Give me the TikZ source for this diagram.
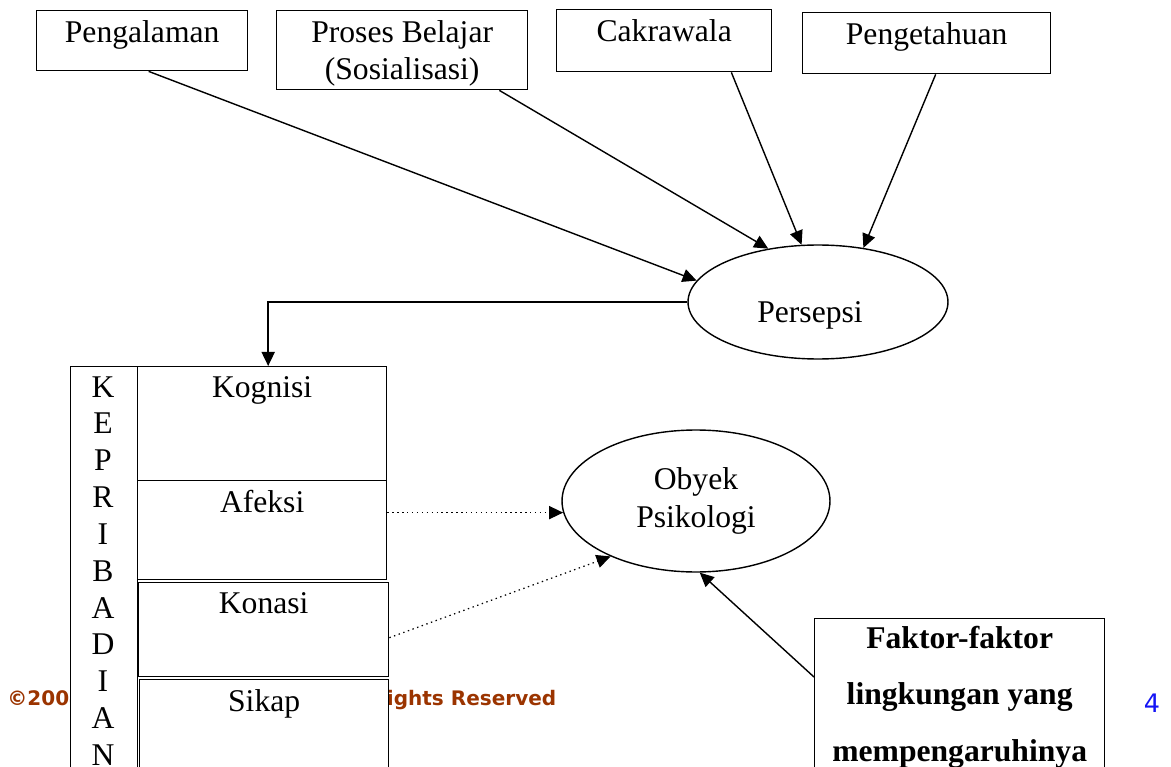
\documentclass[tikz,border=0pt]{standalone}
\usepackage{fontspec}
\setmainfont{Liberation Serif}
\newfontfamily\copyfont{DejaVu Sans}
\usetikzlibrary{arrows.meta,calc,shapes.geometric}
\definecolor{copybrown}{RGB}{155,52,0}
\definecolor{pageblue}{RGB}{20,20,245}
\tikzset{
  box/.style={draw, line width=.8pt, fill=white, anchor=north west, inner sep=0pt},
  head/.style={anchor=north, inner sep=3pt, yshift=-0.09cm, align=center, font=\fontsize{18}{21.5}\selectfont},
  oval/.style={draw, ellipse, line width=.8pt, fill=white, inner sep=0pt},
  arr/.style={line width=.8pt, -{Triangle[length=8pt,width=7.5pt]}},
  dotarr/.style={arr, dotted, line width=.7pt},
}

\begin{document}
\begin{tikzpicture}[x=0.02cm, y=-0.02cm, font=\fontsize{18}{21.5}\selectfont]
\clip (0,0) rectangle (1171,767);
% footer (lies under the boxes)
\node[anchor=west, inner sep=0pt, text=copybrown, font=\copyfont\bfseries\fontsize{11.4}{13}\selectfont] (copy) at (7,700) {\hbox to 10.98cm{©2004\hfill All Rights Reserved}};
\node[text=pageblue, font=\copyfont\fontsize{14.5}{16}\selectfont] (page) at (1152,703) {4};
% top boxes
\node[box, minimum width=4.22cm, minimum height=1.2cm, label={[head]north:Pengalaman}] (peng) at (36,10) {};
\node[box, minimum width=5.02cm, minimum height=1.58cm, label={[head]north:Proses Belajar\\(Sosialisasi)}] (pros) at (276,10) {};
\node[box, minimum width=4.3cm, minimum height=1.24cm, label={[head]north:Cakrawala}] (cakr) at (556,9) {};
\node[box, minimum width=4.96cm, minimum height=1.22cm, label={[head]north:Pengetahuan}] (peta) at (802,12) {};
% ellipses
\node[oval, minimum width=5.2cm, minimum height=2.28cm, label={[xshift=-0.16cm, yshift=-0.26cm]center:Persepsi}] (pers) at (818,302) {};
\node[oval, minimum width=5.36cm, minimum height=2.84cm, align=center] (obj) at (696,501) {Obyek\\Psikologi};
% kepribadian
\node[box, minimum width=1.34cm, minimum height=8.68cm] (kep) at (70,366) {};
\foreach \c [count=\i] in {K,E,P,R,I,B,A,D,I,A,N}
  \node (kep\i) at (103,350+36.8*\i) {\c};
\node[box, minimum width=4.98cm, minimum height=2.28cm, label={[head]north:Kognisi}] (kog) at (137,366) {};
\node[box, minimum width=4.98cm, minimum height=1.98cm, label={[head]north:Afeksi}] (afek) at (137,480) {};
\node[box, minimum width=5.0cm, minimum height=1.88cm, label={[head]north:Konasi}] (kon) at (138,582) {};
\node[box, minimum width=4.98cm, minimum height=2.42cm, label={[head]north:Sikap}] (sik) at (139,679) {};
% faktor lingkungan
\node[box, minimum width=5.8cm, minimum height=3.14cm, align=center, font=\bfseries\fontsize{18}{32}\selectfont] (fak) at (814,618) {Faktor-faktor\\lingkungan yang\\mempengaruhinya};
% connectors
\draw[arr] ($(peng.south)+(6.5,0)$) -- (pers.170);
\draw[arr] ($(pros.south east)+(-29,0)$) -- (pers.133);
\draw[arr] ($(cakr.south east)+(-41,0)$) -- (pers.106);
\draw[arr] ($(peta.south)+(9,0)$) -- (pers.50);
\draw[arr] (pers.west) -| ($(kog.north)+(6,0)$);
\draw[dotarr] (afek.east |- obj.185) -- (obj.185);
\draw[dotarr] ($(kon.east)+(0,8)$) -- (obj.213);
\draw[arr] ($(fak.north west)+(0,59)$) -- (obj.273);
\end{tikzpicture}
\end{document}
